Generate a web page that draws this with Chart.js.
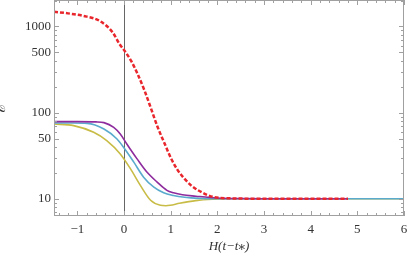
<!DOCTYPE html>
<html>
<head>
<meta charset="utf-8">
<script src="https://cdn.jsdelivr.net/npm/chart.js@4"></script>
<style>
  html, body { margin: 0; padding: 0; background: #fff; }
  canvas { display: block; }
</style>
</head>
<body>
<canvas id="myChart" width="407" height="258"></canvas>
<script>
// values
const redX    = [-1.5, -1.2, -0.88, -0.52, -0.24, -0.1, 0.01, 0.15, 0.29, 0.44, 0.58, 0.72, 0.87, 1.01, 1.15, 1.29, 1.43, 1.58, 1.91, 2.3, 3, 4.8];
const redY    = [1480, 1420, 1330, 1160, 850, 630, 524, 401, 282, 180, 111, 68, 43.7, 29.3, 21.5, 17.2, 14.4, 12.6, 10.5, 10.1, 10, 10];

const purpleX = [-1.5, -1, -0.6, -0.43, -0.22, -0.08, 0.06, 0.28, 0.49, 0.71, 0.92, 1.06, 1.25, 1.54, 2, 2.5, 3, 4.8];
const purpleY = [78.5, 78.5, 78, 76.5, 67.4, 56.4, 43.2, 29, 20.4, 15.6, 12.5, 11.7, 11.1, 10.7, 10.2, 10.05, 10, 10];

const blueX   = [-1.5, -1.1, -0.79, -0.43, -0.15, -0.01, 0.21, 0.42, 0.64, 0.85, 1.06, 1.3, 1.6, 2, 6];
const blueY   = [75.6, 75.6, 75, 64.5, 49.4, 39.6, 26.6, 17.8, 13.6, 11.7, 10.9, 10.4, 10.1, 10, 10];

const yellowX = [-1.5, -1.08, -0.65, -0.37, -0.08, 0.14, 0.35, 0.57, 0.78, 0.9, 0.99, 1.19, 1.54, 1.9, 2.3, 6];
const yellowY = [73.6, 70.6, 59, 47.3, 33.1, 22.2, 14.3, 9.6, 8.4, 8.3, 8.4, 8.85, 9.5, 9.85, 10, 10];

const xTicks = [-1, 0, 1, 2, 3, 4, 5, 6];
const yTicks = [10, 50, 100, 500, 1000];
const yMinor = [7, 8, 9, 20, 30, 40, 60, 70, 80, 90, 200, 300, 400, 600, 700, 800, 900, 2000];

const pts = (xs, ys) => xs.map((x, i) => ({x: x, y: ys[i]}));

const serif = "'Liberation Serif', 'DejaVu Serif', serif";

// Mathematica style frame: inward ticks on all four sides + line at x = 0
const frameTicks = {
	id: 'frameTicks',
	beforeDatasetsDraw(chart) {
		const ctx = chart.ctx;
		const {top, bottom} = chart.chartArea;
		const x0 = Math.round(chart.scales.x.getPixelForValue(0)) + 0.5;
		ctx.save();
		ctx.strokeStyle = '#666';
		ctx.lineWidth = 1;
		ctx.beginPath();
		ctx.moveTo(x0, top);
		ctx.lineTo(x0, bottom);
		ctx.stroke();
		ctx.restore();
	},
	afterDraw(chart) {
		const ctx = chart.ctx;
		const {left, right, top, bottom} = chart.chartArea;
		const sx = chart.scales.x, sy = chart.scales.y;
		ctx.save();
		ctx.strokeStyle = '#a0a0a0';
		ctx.lineWidth = 1;
		ctx.strokeRect(left + 0.5, top + 0.5, right - left - 1, bottom - top - 1);
		ctx.beginPath();
		for (let i = -7; i <= 30; i++) {
			const len = (i % 5 === 0) ? 5 : 3;
			const px = Math.round(sx.getPixelForValue(i / 5)) + 0.5;
			ctx.moveTo(px, bottom);
			ctx.lineTo(px, bottom - len);
			ctx.moveTo(px, top);
			ctx.lineTo(px, top + len);
		}
		const allY = yTicks.map(v => [v, 5]).concat(yMinor.map(v => [v, 3]));
		allY.forEach(([v, len]) => {
			const py = Math.round(sy.getPixelForValue(v)) + 0.5;
			if (py < top || py > bottom) return;
			ctx.moveTo(left, py);
			ctx.lineTo(left + len, py);
			ctx.moveTo(right, py);
			ctx.lineTo(right - len, py);
		});
		ctx.stroke();
		ctx.restore();
	}
};

const ctx = document.getElementById('myChart').getContext('2d');

const myChart = new Chart(ctx, {
	type: 'scatter',
	data: {
		datasets: [{
			data: pts(redX, redY),
			borderColor: '#e8262c',
			borderWidth: 2.5,
			borderDash: [4, 2]
		}, {
			data: pts(purpleX, purpleY),
			borderColor: '#8e2c9e',
			borderWidth: 1.6
		}, {
			data: pts(blueX, blueY),
			borderColor: '#5aaacd',
			borderWidth: 1.6
		}, {
			data: pts(yellowX, yellowY),
			borderColor: '#c8bc46',
			borderWidth: 1.6
		}]
	},
	options: {
		responsive: false,
		animation: false,
		devicePixelRatio: 1,
		showLine: true,
		layout: { padding: { top: 0, right: 3, left: 0, bottom: 0 } },
		elements: {
			point: { radius: 0 },
			line: { cubicInterpolationMode: 'monotone', fill: false }
		},
		plugins: {
			legend: { display: false },
			tooltip: { enabled: false }
		},
		scales: {
			x: {
				type: 'linear',
				min: -1.5,
				max: 6,
				afterBuildTicks: (s) => { s.ticks = xTicks.map(v => ({value: v})); },
				afterFit: (s) => { s.height = 42; s.paddingLeft = 0; s.paddingRight = 0; },
				grid: { display: false, drawTicks: false },
				border: { display: false },
				ticks: {
					padding: 6,
					color: '#333',
					font: { family: serif, size: 13 },
					callback: (v) => String(v).replace('-', '\u2212')
				},
				title: {
					display: true,
					text: 'H(t\u2212t\u204E)',
					color: '#333',
					padding: { top: 0, bottom: 4 },
					font: { family: serif, size: 13, style: 'italic' }
				}
			},
			y: {
				type: 'logarithmic',
				min: 6.3,
				max: 2030,
				afterBuildTicks: (s) => { s.ticks = yTicks.map(v => ({value: v})); },
				afterFit: (s) => { s.width = 54; s.paddingTop = 0; s.paddingBottom = 0; },
				grid: { display: false, drawTicks: false },
				border: { display: false },
				ticks: {
					padding: 3,
					color: '#333',
					font: { family: serif, size: 13 },
					callback: (v) => String(v)
				},
				title: {
					display: true,
					text: '\u2130',
					color: '#333',
					padding: { top: -4, bottom: 0 },
					font: { family: serif, size: 15, style: 'italic', lineHeight: 0.7 }
				}
			}
		}
	},
	plugins: [frameTicks]
});
</script>
</body>
</html>
